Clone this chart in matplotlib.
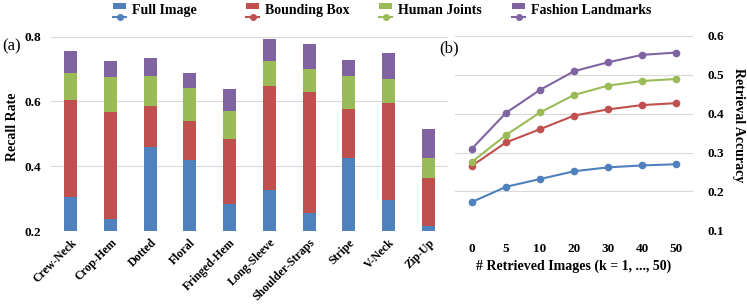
import matplotlib
matplotlib.use("Agg")
import matplotlib.pyplot as plt
from matplotlib.patches import Rectangle
from matplotlib.lines import Line2D

plt.rcParams['font.family'] = ['Liberation Serif', 'DejaVu Serif']

# (a) recall rate per attribute
categories = ['Crew-Neck', 'Crop-Hem', 'Dotted', 'Floral', 'Fringed-Hem',
              'Long-Sleeve', 'Shoulder-Straps', 'Stripe', 'V-Neck', 'Zip-Up']
full_image = [0.305, 0.238, 0.458, 0.420, 0.285, 0.328, 0.257, 0.425, 0.295, 0.214]
bounding_box = [0.605, 0.568, 0.587, 0.540, 0.485, 0.649, 0.629, 0.577, 0.596, 0.365]
human_joints = [0.689, 0.676, 0.679, 0.641, 0.570, 0.724, 0.700, 0.680, 0.670, 0.425]
fashion_lm = [0.755, 0.726, 0.734, 0.689, 0.638, 0.794, 0.778, 0.728, 0.750, 0.516]

# (b) retrieval accuracy vs k
k_labels = ['0', '5', '10', '20', '30', '40', '50']
acc_full = [0.173, 0.212, 0.232, 0.252, 0.262, 0.267, 0.270]
acc_bbox = [0.266, 0.326, 0.360, 0.395, 0.411, 0.422, 0.427]
acc_joints = [0.276, 0.345, 0.403, 0.448, 0.472, 0.484, 0.489]
acc_lm = [0.310, 0.402, 0.461, 0.509, 0.532, 0.551, 0.557]

names = ['Full Image', 'Bounding Box', 'Human Joints', 'Fashion Landmarks']
colors = ['#4F81BD', '#C0504D', '#9BBB59', '#8064A2']
bar_series = [full_image, bounding_box, human_joints, fashion_lm]
line_series = [acc_full, acc_bbox, acc_joints, acc_lm]

W, H = 747, 306
fig = plt.figure(figsize=(W / 100, H / 100), dpi=100)
ax1 = fig.add_axes([0.068, 0.245, 0.532, 0.635])
ax2 = fig.add_axes([0.609, 0.247, 0.319, 0.636])

x = range(len(categories))
# tallest first so shorter ones sit on top
for vals, c in reversed(list(zip(bar_series, colors))):
    ax1.bar(x, vals, width=0.33, color=c, zorder=2)
ax1.set_xlim(-0.5, len(categories) - 0.5)
ax1.set_ylim(0.2, 0.8)
ax1.set_yticks([0.2, 0.4, 0.6, 0.8])
ax1.set_yticklabels(['0.2', '0.4', '0.6', '0.8'], fontweight='bold', fontsize=9.5)
ax1.set_xticks(list(x))
ax1.set_xticklabels(categories, rotation=45, ha='right', rotation_mode='anchor',
                    fontweight='bold', fontsize=8.5)
ax1.tick_params(length=0, axis='y', pad=7)
ax1.tick_params(length=0, axis='x', pad=4)
ax1.grid(axis='y', color='#D9D9D9', lw=0.8, zorder=0)
for s in ax1.spines.values():
    s.set_visible(False)
fig.text(13 / W, 1 - 127 / H, 'Recall Rate', rotation=90, ha='center', va='center',
         fontweight='bold', fontsize=10)
fig.text(0.003, 1 - 46 / H, '(a)', fontsize=12, va='center')

xs = range(len(k_labels))
for vals, c in zip(line_series, colors):
    ax2.plot(xs, vals, color=c, marker='o', ms=4.5, lw=1.5, zorder=3)
ax2.set_xlim(-0.5, len(k_labels) - 0.5)
ax2.set_ylim(0.1, 0.6)
ax2.set_yticks([0.1, 0.2, 0.3, 0.4, 0.5, 0.6])
ax2.set_yticklabels(['0.1', '0.2', '0.3', '0.4', '0.5', '0.6'], fontweight='bold', fontsize=9.5)
ax2.yaxis.tick_right()
ax2.set_xticks(list(xs))
ax2.set_xticklabels(k_labels, fontweight='bold', fontsize=9.5)
ax2.set_xlabel('# Retrieved Images (k = 1, ..., 50)', fontweight='bold', fontsize=10, labelpad=3)
ax2.tick_params(length=0, axis='y', pad=10)
ax2.tick_params(length=0, axis='x', pad=9)
ax2.grid(axis='y', color='#D9D9D9', lw=0.8, zorder=0)
for s in ax2.spines.values():
    s.set_visible(False)
fig.text(738 / W, 1 - 125 / H, 'Retrieval Accuracy', rotation=270, ha='center', va='center',
         fontweight='bold', fontsize=10)
fig.text(439 / W, 1 - 48 / H, '(b)', fontsize=12, va='center')

# legend: bar swatch on top, line+marker below, evenly spaced columns
for i, (name, c) in enumerate(zip(names, colors)):
    x0 = 113 + 133 * i
    fig.add_artist(Rectangle((x0 / W, 1 - 9 / H), 13 / W, 6 / H, facecolor=c,
                             edgecolor='none', transform=fig.transFigure))
    fig.add_artist(Line2D([x0 / W, (x0 + 13) / W], [1 - 16.5 / H] * 2, color=c, lw=1.5,
                          transform=fig.transFigure))
    fig.add_artist(Line2D([(x0 + 6.5) / W], [1 - 16.5 / H], color=c, marker='o', ms=4,
                          ls='none', transform=fig.transFigure))
    fig.text((x0 + 19) / W, 1 - 10.5 / H, name, va='center', ha='left',
             fontweight='bold', fontsize=10)

fig.savefig('out.png', dpi=100)
